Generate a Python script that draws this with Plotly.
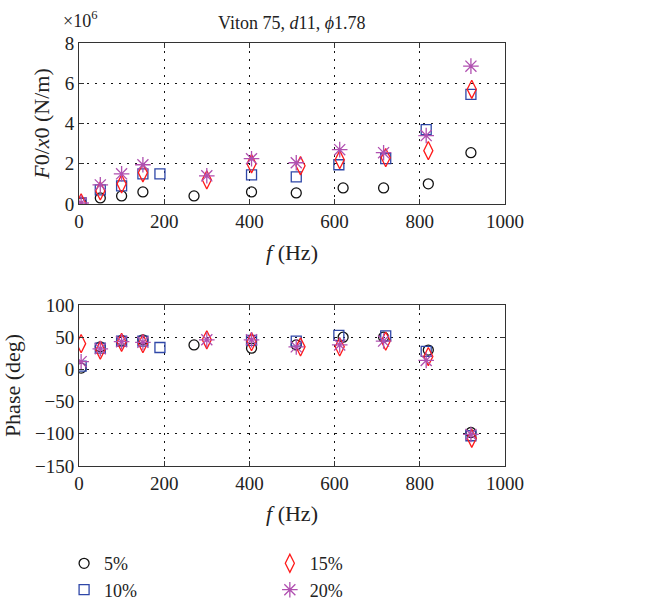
import plotly.graph_objects as go

# ---- data ----
f5 = [5, 50, 100, 150, 270, 405, 510, 620, 715, 820, 920]
f10 = [5, 50, 100, 150, 190, 405, 510, 610, 720, 815, 920]
f15 = [5, 50, 100, 150, 300, 405, 520, 612, 720, 820, 922]
f20 = [5, 50, 100, 150, 300, 405, 510, 612, 715, 815, 920]

k5 = [0.05, 0.3, 0.4, 0.6, 0.4, 0.6, 0.55, 0.8, 0.8, 1.0, 2.55]
k10 = [0.05, 0.7, 0.9, 1.5, 1.5, 1.45, 1.35, 1.95, 2.25, 3.7, 5.45]
k15 = [0.05, 0.65, 1.0, 1.55, 1.2, 2.0, 1.9, 2.2, 2.3, 2.65, 5.7]
k20 = [0.05, 0.95, 1.5, 1.95, 1.4, 2.25, 2.05, 2.7, 2.55, 3.4, 6.85]

p5 = [2, 35, 45, 46, 38, 33, 38, 50, 50, 30, -98]
p10 = [5, 33, 44, 44, 34, 45, 44, 53, 52, 28, -103]
p15 = [40, 30, 42, 40, 46, 43, 35, 35, 44, 20, -107]
p20 = [12, 32, 43, 42, 46, 46, 35, 38, 44, 14, -101]

labels = ["5%", "10%", "15%", "20%"]
xticks = [0, 200, 400, 600, 800, 1000]
kticks = [0, 2, 4, 6, 8]
pticks = [-150, -100, -50, 0, 50, 100]

FONT = "Liberation Serif"
series = [
    (f5, k5, p5, "circle-open", "#111111", 10, "legend"),
    (f10, k10, p10, "square-open", "#2f47a8", 10, "legend"),
    (f15, k15, p15, "diamond-tall-open", "#ff1a1a", 13, "legend2"),
    (f20, k20, p20, "asterisk-open", "#b050b0", 13, "legend2"),
]

fig = go.Figure()
for (fx, kv, pv, sym, col, sz, leg), lab in zip(series, labels):
    mk = dict(symbol=sym, color=col, size=sz, line=dict(color=col, width=1.3))
    fig.add_trace(go.Scatter(x=fx, y=[v * 1e6 for v in kv], mode="markers", marker=mk,
                             name=lab, showlegend=False, xaxis="x", yaxis="y"))
    fig.add_trace(go.Scatter(x=fx, y=pv, mode="markers", marker=mk,
                             name=lab, legend=leg, showlegend=True, xaxis="x2", yaxis="y2"))

axcommon = dict(showline=True, mirror="allticks", linecolor="#333", linewidth=1,
                ticks="inside", ticklen=5, tickcolor="#333",
                showgrid=True, gridcolor="#111", griddash="2px,6px", gridwidth=1,
                zeroline=False, tickfont=dict(family=FONT, size=19, color="#222"))

fig.update_layout(
    width=645, height=605,
    margin=dict(l=79, r=140, t=43, b=139, autoexpand=False),
    plot_bgcolor="white", paper_bgcolor="white",
    font=dict(family=FONT, size=18, color="#222"),
    xaxis=dict(domain=[0, 1], anchor="y", range=[0, 1000], tickvals=xticks,
               title=dict(text="<i>f</i> (Hz)", standoff=13), **axcommon),
    yaxis=dict(domain=[0.6194, 1], anchor="x", range=[0, 8e6],
               tickvals=[v * 1e6 for v in kticks], ticktext=[str(v) for v in kticks],
               title=dict(text="<i>F</i>0/<i>x</i>0 (N/m)", standoff=8), **axcommon),
    xaxis2=dict(domain=[0, 1], anchor="y2", range=[0, 1000], tickvals=xticks,
                title=dict(text="<i>f</i> (Hz)", standoff=12), **axcommon),
    yaxis2=dict(domain=[0, 0.3806], anchor="x2", range=[-150, 100], tickvals=pticks,
                ticktext=[str(v).replace("-", "\u2212") for v in pticks],
                title=dict(text="Phase (deg)", standoff=8), **axcommon),
    legend=dict(x=-0.035, y=0.099, xref="paper", yref="container", xanchor="left", yanchor="top",
                orientation="v", font=dict(family=FONT, size=18), tracegroupgap=0, itemwidth=30,
                bgcolor="rgba(0,0,0,0)"),
    legend2=dict(x=0.448, y=0.099, xref="paper", yref="container", xanchor="left", yanchor="top",
                 orientation="v", font=dict(family=FONT, size=18), tracegroupgap=0, itemwidth=30,
                 bgcolor="rgba(0,0,0,0)"),
    annotations=[
        dict(text="Viton 75, <i>d</i>11, <i>\u03d5</i>1.78", x=0.5, y=1, xref="paper", yref="paper",
             xanchor="center", yanchor="bottom", yshift=8, showarrow=False,
             font=dict(family=FONT, size=18, color="#222")),
        dict(text="\u00d710<sup>6</sup>", x=0, y=1, xref="paper", yref="paper",
             xanchor="left", yanchor="bottom", xshift=-18, yshift=10, showarrow=False,
             font=dict(family=FONT, size=18, color="#222")),
    ],
)

fig.write_html("out.html")
